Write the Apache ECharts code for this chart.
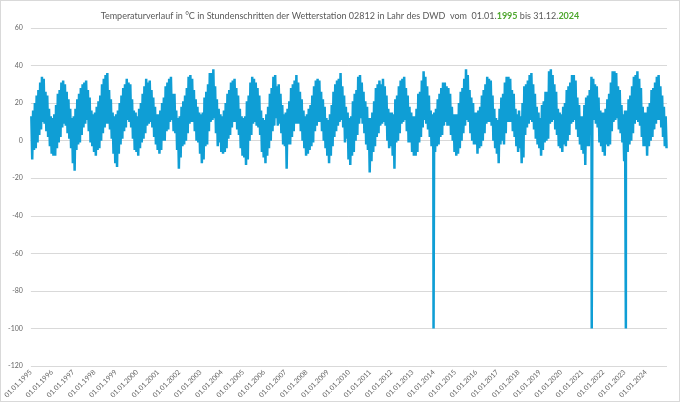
<!DOCTYPE html>
<html>
<head>
<meta charset="utf-8">
<script src="https://cdn.jsdelivr.net/npm/echarts@6/dist/echarts.min.js"></script>
<style>
  html, body { margin: 0; padding: 0; background: #fff; }
  #chart { width: 680px; height: 402px; box-sizing: border-box; border: 1px solid #d9d9d9; }
</style>
</head>
<body>
<div id="chart"></div>
<script>
// Jahre 1995..2024
const years = [1995,1996,1997,1998,1999,2000,2001,2002,2003,2004,2005,2006,2007,2008,2009,
               2010,2011,2012,2013,2014,2015,2016,2017,2018,2019,2020,2021,2022,2023,2024];

// Monatsmaxima (J F M A M J J A S O N D), aus dem Bild geschaetzt
const monthlyMax = [
  13,16,20,24,27,31,34,33,26,24,17,13,
  12,14,19,25,27,31,32,30,26,22,17,12,
  13,17,22,25,28,30,31,32,27,23,16,14,
  15,18,21,24,30,33,35,36,27,22,15,13,
  14,16,20,24,28,30,33,31,30,22,16,15,
  13,17,20,25,29,33,31,32,27,23,18,14,
  14,16,20,23,29,31,33,34,25,25,16,12,
  13,18,21,24,28,34,35,33,27,22,18,15,
  14,15,23,26,30,36,36,38,29,22,17,14,
  13,16,20,25,27,31,32,33,28,24,17,13,
  12,13,21,24,31,34,33,31,28,24,16,12,
  11,14,18,25,28,34,35,29,30,25,19,14,
  15,17,21,28,30,32,35,31,26,22,16,13,
  14,17,19,24,29,32,33,32,26,22,18,12,
  11,14,19,26,30,32,33,36,29,24,18,15,
  12,13,21,25,27,34,35,31,26,21,18,12,
  12,15,21,28,30,32,30,33,29,24,17,15,
  15,14,22,24,29,32,33,34,28,24,18,15,
  13,13,17,25,26,32,37,34,29,24,16,14,
  15,17,22,25,28,31,31,29,28,25,18,14,
  14,14,20,26,28,33,38,35,27,23,20,15,
  15,16,18,24,27,30,34,33,32,24,17,12,
  11,17,23,25,31,34,34,33,27,25,17,14,
  16,13,20,29,30,32,35,36,30,25,18,15,
  12,19,21,26,26,37,38,35,30,26,17,15,
  14,18,20,27,29,31,35,35,32,23,19,13,
  13,19,23,24,27,34,33,30,29,23,16,15,
  15,17,22,25,31,37,37,36,29,27,19,14,
  16,16,22,24,29,34,35,37,33,28,18,15,
  15,18,20,27,28,31,34,35,29,24,18,13
];

// Monatsminima (J F M A M J J A S O N D), aus dem Bild geschaetzt
const monthlyMin = [
  -10,-5,-4,-1,3,6,10,9,5,2,-3,-7,
  -8,-8,-4,-1,2,7,9,8,4,1,-4,-12,
  -16,-5,-2,-1,3,7,9,11,5,-1,-3,-6,
  -8,-5,-4,0,4,7,9,9,6,1,-7,-12,
  -14,-7,-2,1,5,7,11,10,7,1,-5,-6,
  -8,-4,-1,1,4,8,9,10,7,2,-2,-5,
  -7,-5,0,0,5,6,10,11,5,4,-5,-15,
  -9,-3,-2,0,4,9,10,10,5,0,-1,-7,
  -12,-10,-3,-2,5,10,11,12,4,-3,-1,-6,
  -7,-6,-4,1,3,7,10,10,6,3,-4,-8,
  -9,-13,-10,0,3,9,10,8,7,3,-6,-9,
  -12,-8,-4,0,5,8,12,8,9,4,-2,-3,
  -15,-2,-2,2,5,9,9,9,5,0,-4,-8,
  -7,-5,-3,-1,5,8,10,10,5,0,-4,-8,
  -12,-8,-3,2,5,8,10,11,7,-1,1,-10,
  -13,-8,-6,0,3,9,12,9,4,-2,-5,-17,
  -11,-6,-3,2,4,8,9,10,8,0,-4,-3,
  -8,-15,-1,0,4,9,10,11,5,-1,-1,-6,
  -8,-8,-6,-1,2,7,11,9,6,2,-3,-5,
  -6,-3,-2,2,3,8,10,8,8,3,0,-6,
  -8,-7,-4,0,4,8,11,10,4,0,-2,-2,
  -7,-4,-3,0,4,9,10,10,8,0,-4,-7,
  -12,-2,0,-2,4,10,10,10,5,2,-3,-6,
  -4,-12,-9,3,7,9,11,10,6,1,-2,-4,
  -8,-5,-1,0,1,9,10,11,6,3,-3,-4,
  -6,-2,-3,0,3,9,10,11,6,2,-2,-5,
  -7,-13,-3,-3,3,9,11,9,7,-1,-3,-6,
  -8,-2,-3,-2,5,10,11,12,6,4,-1,-11,
  -5,-6,-2,0,4,9,11,10,8,2,-3,-3,
  -8,-3,0,2,6,9,11,11,7,2,-3,-4
];

// Fehlwerte (-100) als Zeitpunkt in Jahren
const gapTimes = [2013.99, 2021.45, 2023.06];
const gapValues = [-100, -100, -100];

// Zeitreihe aufbauen
let seriesData = [];
for (let i = 0; i < years.length; i++) {
    for (let m = 0; m < 12; m++) {
        let k = i * 12 + m;
        seriesData.push([years[i] + (m + 0.25) / 12, monthlyMax[k]]);
        seriesData.push([years[i] + (m + 0.75) / 12, monthlyMin[k]]);
    }
}
for (let j = 0; j < gapTimes.length; j++) {
    seriesData.push([gapTimes[j], gapValues[j]]);
}
seriesData.sort((a, b) => { return a[0] - b[0]; });

let chart = echarts.init(document.getElementById("chart"));
chart.setOption({
    animation: false,
    title: {
        text: "{a|Temperaturverlauf in °C in Stundenschritten der Wetterstation 02812 in Lahr des DWD  vom  01.01.}{g|1995}{a| bis 31.12.}{g|2024}",
        left: "center",
        top: 6,
        textStyle: {
            rich: {
                a: { fontFamily: "Lato", fontSize: 9, color: "#595959", fontWeight: "normal" },
                g: { fontFamily: "Lato", fontSize: 9, color: "#4ea72e", fontWeight: "bold" }
            }
        }
    },
    grid: { left: 29, right: 12, top: 27, bottom: 35, containLabel: false },
    xAxis: {
        type: "value",
        min: 1995,
        max: 2025,
        interval: 1,
        axisLine: { show: true, lineStyle: { color: "#d9d9d9" } },
        axisTick: { show: false },
        splitLine: { show: false },
        axisLabel: {
            rotate: 45,
            fontSize: 7,
            fontFamily: "Lato",
            color: "#666666",
            margin: 5,
            formatter: function (v) { return v < 2025 ? "01.01." + v : ""; }
        }
    },
    yAxis: {
        type: "value",
        min: -120,
        max: 60,
        interval: 20,
        axisLine: { show: false },
        axisTick: { show: false },
        splitLine: { lineStyle: { color: "#d9d9d9", width: 1 } },
        axisLabel: { fontSize: 7, fontFamily: "Lato", color: "#666666", margin: 8 }
    },
    series: [{
        type: "line",
        data: seriesData,
        showSymbol: false,
        sampling: null,
        lineStyle: { color: "#0f9ed5", width: 2.5, join: "miter", miterLimit: 2 },
        itemStyle: { color: "#0f9ed5" }
    }]
});
</script>
</body>
</html>
